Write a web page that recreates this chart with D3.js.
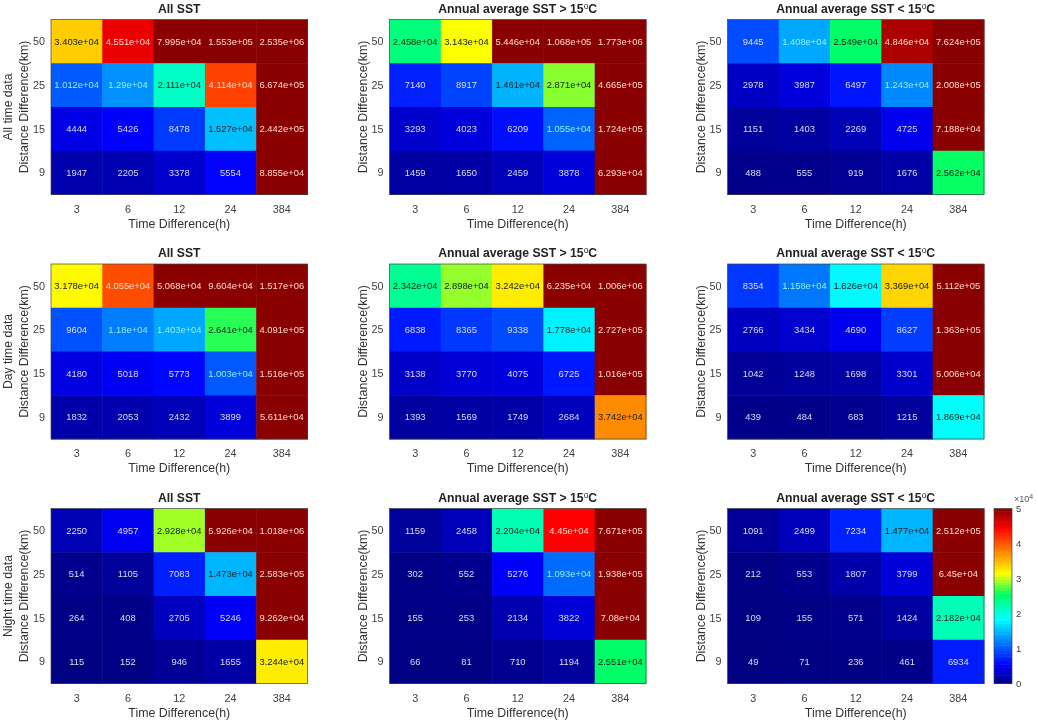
<!DOCTYPE html>
<html>
<head>
<meta charset="utf-8">
<script src="https://cdn.jsdelivr.net/npm/d3@7"></script>
<style>
body { margin: 0; background: #fff; }
svg { display: block; font-family: "Liberation Sans", Arial, sans-serif; filter: blur(0.35px); }
.tick-label { font-size: 10.8px; fill: #404040; }
.axis-label { font-size: 12.4px; fill: #333; }
.row-label { font-size: 12.2px; fill: #333; }
.panel-title { font-size: 12.2px; font-weight: bold; fill: #222; }
.cell-label { font-size: 9.4px; }
</style>
</head>
<body>
<svg id="chart" width="1038" height="721"></svg>
<script>
// categories
const timeDiff = ['3', '6', '12', '24', '384'];
const distDiff = ['50', '25', '15', '9'];
const columnTitles = ['All SST', 'Annual average SST > 15', 'Annual average SST < 15'];
const rowLabels = ['All time data', 'Day time data', 'Night time data'];
const colorTicks = [0, 1, 2, 3, 4, 5];

// cell values, rows go 50, 25, 15, 9 km
const allTimeAll = [[34030, 45510, 79950, 155300, 2535000], [10120, 12900, 21110, 41140, 667400], [4444, 5426, 8478, 15270, 244200], [1947, 2205, 3378, 5554, 88550]];
const allTimeWarm = [[24580, 31430, 54460, 106800, 1773000], [7140, 8917, 14610, 28710, 466500], [3293, 4023, 6209, 10550, 172400], [1459, 1650, 2459, 3878, 62930]];
const allTimeCold = [[9445, 14080, 25490, 48460, 762400], [2978, 3987, 6497, 12430, 200800], [1151, 1403, 2269, 4725, 71880], [488, 555, 919, 1676, 25620]];
const dayAll = [[31780, 40550, 50680, 96040, 1517000], [9604, 11800, 14030, 26410, 409100], [4180, 5018, 5773, 10030, 151600], [1832, 2053, 2432, 3899, 56110]];
const dayWarm = [[23420, 28980, 32420, 62350, 1006000], [6838, 8365, 9338, 17780, 272700], [3138, 3770, 4075, 6725, 101600], [1393, 1569, 1749, 2684, 37420]];
const dayCold = [[8354, 11580, 18260, 33690, 511200], [2766, 3434, 4690, 8627, 136300], [1042, 1248, 1698, 3301, 50060], [439, 484, 683, 1215, 18690]];
const nightAll = [[2250, 4957, 29280, 59260, 1018000], [514, 1105, 7083, 14730, 258300], [264, 408, 2705, 5246, 92620], [115, 152, 946, 1655, 32440]];
const nightWarm = [[1159, 2458, 22040, 44500, 767100], [302, 552, 5276, 10930, 193800], [155, 253, 2134, 3822, 70800], [66, 81, 710, 1194, 25510]];
const nightCold = [[1091, 2499, 7234, 14770, 251200], [212, 553, 1807, 3799, 64500], [109, 155, 571, 1424, 21820], [49, 71, 236, 461, 6934]];
const panelGrid = [[allTimeAll, allTimeWarm, allTimeCold], [dayAll, dayWarm, dayCold], [nightAll, nightWarm, nightCold]];

const svg = d3.select('#chart');

// jet-like colormap
const color = d3.scaleLinear()
    .domain([0, 5500, 18500, 25500, 31500, 44500, 50000])
    .range(['#000080', '#0000ff', '#00ffff', '#00ff66', '#ffff00', '#ff0000', '#8a0000'])
    .clamp(true);

const colLeft = [51, 389.5, 727.5];
const rowTop = [19.5, 264, 508.5];
const plotW = 256.5;
const plotH = 175;

// MATLAB style number format, like %.4g
function fmt(v) {
    if (v < 10000) return String(v);
    const parts = v.toExponential(3).split('e');
    const mant = parts[0].replace(/0+$/, '').replace(/\.$/, '');
    const exp = +parts[1];
    return mant + 'e+' + (exp < 10 ? '0' + exp : exp);
}

function textColor(v) {
    if (v < 10000) return '#dcdcf0';
    if (v < 14200) return '#8ff0ff';
    if (v < 38000) return '#10201a';
    return '#ffd8cc';
}

function drawPanel(values, r, c) {
    const g = svg.append('g').attr('transform', 'translate(' + colLeft[c] + ',' + rowTop[r] + ')');
    const x = d3.scaleBand().domain(timeDiff).range([0, plotW]);
    const y = d3.scaleBand().domain(distDiff).range([0, plotH]);

    const cells = [];
    values.forEach((row, i) => row.forEach((v, j) => cells.push({d: distDiff[i], t: timeDiff[j], v: v})));

    g.selectAll('rect.cell').data(cells).enter().append('rect')
        .attr('class', 'cell')
        .attr('x', d => x(d.t))
        .attr('y', d => y(d.d))
        .attr('width', x.bandwidth() + 0.5)
        .attr('height', y.bandwidth() + 0.5)
        .attr('fill', d => color(d.v));

    g.selectAll('text.cell-label').data(cells).enter().append('text')
        .attr('class', 'cell-label')
        .attr('x', d => x(d.t) + x.bandwidth() / 2)
        .attr('y', d => y(d.d) + y.bandwidth() / 2)
        .attr('dy', '0.35em')
        .attr('text-anchor', 'middle')
        .attr('fill', d => textColor(d.v))
        .text(d => fmt(d.v));

    g.append('rect').attr('width', plotW).attr('height', plotH)
        .attr('fill', 'none').attr('stroke', '#444').attr('stroke-width', 0.7);

    g.selectAll('text.xt').data(timeDiff).enter().append('text')
        .attr('class', 'tick-label xt')
        .attr('x', d => x(d) + x.bandwidth() / 2)
        .attr('y', plotH + 18)
        .attr('text-anchor', 'middle')
        .text(d => d);

    g.selectAll('text.yt').data(distDiff).enter().append('text')
        .attr('class', 'tick-label yt')
        .attr('x', -6)
        .attr('y', d => y(d) + y.bandwidth() / 2)
        .attr('dy', '0.35em')
        .attr('text-anchor', 'end')
        .text(d => d);

    g.append('text').attr('class', 'axis-label')
        .attr('x', plotW / 2).attr('y', plotH + 33)
        .attr('text-anchor', 'middle')
        .text('Time Difference(h)');

    g.append('text').attr('class', 'axis-label')
        .attr('transform', 'translate(-23,' + (plotH / 2) + ') rotate(-90)')
        .attr('text-anchor', 'middle')
        .text('Distance Difference(km)');

    if (c === 0) {
        g.append('text').attr('class', 'row-label')
            .attr('transform', 'translate(-39,' + (plotH / 2) + ') rotate(-90)')
            .attr('text-anchor', 'middle')
            .text(rowLabels[r]);
    }

    const title = g.append('text').attr('class', 'panel-title')
        .attr('x', plotW / 2).attr('y', -7)
        .attr('text-anchor', 'middle')
        .text(columnTitles[c]);
    if (c > 0) {
        title.append('tspan').attr('dy', -4).attr('font-size', '8.5px').attr('font-weight', 'normal').text('o');
        title.append('tspan').attr('dy', 4).text('C');
    }
}

panelGrid.forEach((rowPanels, r) => rowPanels.forEach((values, c) => drawPanel(values, r, c)));

// colorbar
const barScale = d3.scaleLinear().domain([0, 5]).range([rowTop[2] + plotH, rowTop[2]]);
const barX = 994;
const barW = 18;
const barSteps = d3.range(0, 5, 5 / 64);
svg.selectAll('rect.bar').data(barSteps).enter().append('rect')
    .attr('class', 'bar')
    .attr('x', barX)
    .attr('y', d => barScale(d + 5 / 64))
    .attr('width', barW)
    .attr('height', barScale(0) - barScale(5 / 64) + 0.5)
    .attr('fill', d => color((d + 2.5 / 64) * 10000));
svg.append('rect').attr('x', barX).attr('y', barScale(5)).attr('width', barW).attr('height', plotH)
    .attr('fill', 'none').attr('stroke', '#444').attr('stroke-width', 0.7);
svg.selectAll('text.bt').data(colorTicks).enter().append('text')
    .attr('class', 'bt')
    .attr('x', barX + barW + 4)
    .attr('y', d => barScale(d))
    .attr('dy', '0.35em')
    .attr('font-size', '9.5px')
    .attr('fill', '#404040')
    .text(d => d);
const mult = svg.append('text').attr('x', 1014).attr('y', 502).attr('font-size', '9px').attr('fill', '#555').text('\u00d710');
mult.append('tspan').attr('dy', -3).attr('font-size', '7px').text('4');
</script>
</body>
</html>
